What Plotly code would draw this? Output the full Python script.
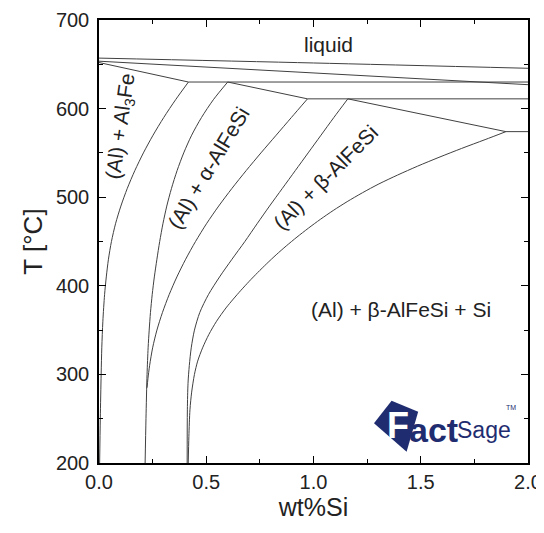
import plotly.graph_objects as go

# ---------------- data (wt% Si, T in degC) ----------------
liq_x = [0.0, 1.0, 2.0]
liq_T = [657, 651.5, 645.5]

l2_x = [0.0, 2.0]
l2_T = [653.5, 627]

l3_x = [0.0, 0.417]
l3_T = [652, 630]

eut1_x = [0.417, 2.0]
eut1_T = [630, 630]

p_x = [0.600, 0.972]
p_T = [630, 611]

eut2_x = [0.972, 2.0]
eut2_T = [611, 611]

q_x = [1.160, 1.897]
q_T = [611, 574]

eut3_x = [1.897, 2.0]
eut3_T = [574, 574]

a_x = [0.417, 0.357, 0.302, 0.252, 0.207, 0.167, 0.132, 0.102, 0.077, 0.058, 0.044, 0.034, 0.026, 0.018, 0.013, 0.010, 0.006, 0.003]
a_T = [630, 610, 590, 570, 550, 530, 510, 490, 470, 450, 430, 410, 390, 360, 330, 300, 250, 200]

b_x = [0.600, 0.533, 0.478, 0.432, 0.395, 0.364, 0.338, 0.316, 0.298, 0.283, 0.270, 0.258, 0.248, 0.240, 0.234, 0.229, 0.224, 0.219, 0.215]
b_T = [630, 610, 590, 570, 550, 530, 510, 490, 470, 450, 430, 410, 390, 370, 350, 330, 300, 250, 200]

c_x = [0.972, 0.897, 0.826, 0.755, 0.686, 0.620, 0.558, 0.501, 0.450, 0.404, 0.363, 0.327, 0.296, 0.270, 0.250, 0.236, 0.228, 0.224]
c_T = [611, 590, 570, 550, 530, 510, 490, 470, 450, 430, 410, 390, 370, 350, 330, 310, 295, 285]

d_x = [1.160, 1.095, 1.035, 0.975, 0.915, 0.855, 0.795, 0.737, 0.680, 0.620, 0.562, 0.510, 0.470, 0.445, 0.430, 0.421, 0.415, 0.412, 0.411]
d_T = [611, 590, 570, 550, 530, 510, 490, 470, 450, 430, 410, 390, 370, 350, 330, 310, 290, 260, 200]

e_x = [1.897, 1.800, 1.690, 1.585, 1.485, 1.392, 1.305, 1.228, 1.157, 1.092, 1.032, 0.976, 0.923, 0.873, 0.826,
       0.782, 0.740, 0.700, 0.662, 0.626, 0.592, 0.548, 0.512, 0.483, 0.460, 0.445, 0.432, 0.424, 0.419, 0.416]
e_T = [574, 565, 555, 545, 535, 525, 515, 505, 495, 485, 475, 465, 455, 445, 435,
       425, 415, 405, 395, 385, 375, 360, 345, 330, 315, 300, 280, 260, 230, 200]

x_ticks = [0.0, 0.5, 1.0, 1.5, 2.0]
y_ticks = [200, 300, 400, 500, 600, 700]

# ---------------- figure ----------------
LINE = dict(color="#404040", width=1)
fig = go.Figure()
for xs, ts in [(liq_x, liq_T), (l2_x, l2_T), (l3_x, l3_T), (eut1_x, eut1_T),
               (p_x, p_T), (eut2_x, eut2_T), (q_x, q_T), (eut3_x, eut3_T),
               (a_x, a_T), (b_x, b_T), (c_x, c_T), (d_x, d_T), (e_x, e_T)]:
    fig.add_trace(go.Scatter(x=xs, y=ts, mode="lines", line=dict(shape="spline", smoothing=0.8, **LINE),
                             showlegend=False, hoverinfo="skip"))

FONT = "Liberation Sans, Arial, sans-serif"
axis_common = dict(
    showgrid=False, zeroline=False, showline=True, linecolor="black", linewidth=1.5,
    mirror="allticks", ticks="inside", ticklen=7, tickwidth=1.3, tickcolor="black",
    tickfont=dict(family=FONT, size=20, color="#222"), automargin=False,
)
fig.update_xaxes(range=[0, 2], tickvals=x_ticks, tickformat=".1f",
                 minor=dict(dtick=0.25, ticks="inside", ticklen=4, tickcolor="black", tickwidth=1.2),
                 title=dict(text="wt%Si", font=dict(family=FONT, size=25, color="#222"), standoff=1),
                 **axis_common)
fig.update_yaxes(range=[200, 700], tickvals=y_ticks,
                 minor=dict(dtick=50, ticks="inside", ticklen=4, tickcolor="black", tickwidth=1.2),
                 title=dict(text="T [°C]", font=dict(family=FONT, size=26, color="#222"), standoff=6),
                 ticklabelstandoff=4,
                 **axis_common)

ann_font = dict(family=FONT, size=21, color="#222")
annotations = [
    dict(x=1.07, y=672, text="liquid", textangle=0),
    dict(x=0.105, y=580, text="(Al) + Al<sub>3</sub>Fe", textangle=-82),
    dict(x=0.51, y=534, text="(Al) + α-AlFeSi", textangle=-59),
    dict(x=1.056, y=522, text="(Al) + β-AlFeSi", textangle=-45),
    dict(x=1.407, y=373, text="(Al) + β-AlFeSi + Si", textangle=0),
]
for a in annotations:
    fig.add_annotation(xref="x", yref="y", showarrow=False, font=ann_font, **a)

# FactSage logo (decoration, paper coordinates)
NAVY = "#1f2d70"
fig.add_shape(type="path", xref="paper", yref="paper",
              path="M 0.682 0.1406 L 0.744 0.1158 L 0.717 0.0255 L 0.641 0.0896 Z",
              fillcolor=NAVY, line=dict(width=0))
fig.add_annotation(xref="paper", yref="paper", x=0.697, y=0.084, text="<b>F</b>", showarrow=False,
                   font=dict(family=FONT, size=36, color="white"), xanchor="center", yanchor="middle")
fig.add_annotation(xref="paper", yref="paper", x=0.718, y=0.074, text="<b>act</b>", showarrow=False,
                   font=dict(family=FONT, size=34, color=NAVY), xanchor="left", yanchor="middle")
fig.add_annotation(xref="paper", yref="paper", x=0.830, y=0.075, text="Sage", showarrow=False,
                   font=dict(family=FONT, size=23, color=NAVY),
                   xanchor="left", yanchor="middle")
fig.add_annotation(xref="paper", yref="paper", x=0.943, y=0.125, text="TM", showarrow=False,
                   font=dict(family=FONT, size=7, color=NAVY), xanchor="left", yanchor="middle")

# the page body adds an 8 px offset, so the figure is sized to fit the 544x533 window
fig.update_layout(
    width=536, height=525,
    margin=dict(l=91, r=16, t=12, b=70),
    plot_bgcolor="white", paper_bgcolor="white",
    showlegend=False,
)
fig.write_html("out.html")
